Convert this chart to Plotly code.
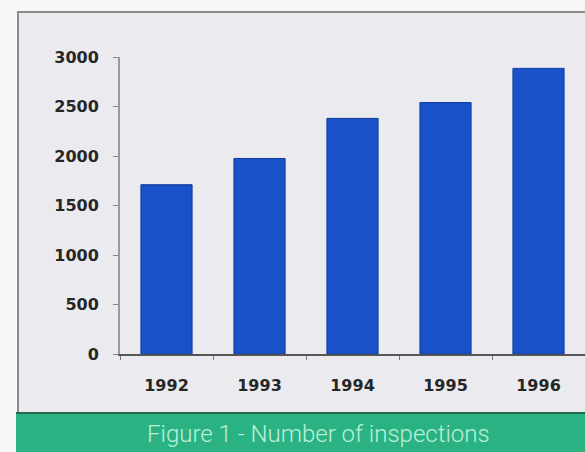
import plotly.graph_objects as go

W, H = 585, 452

years = ["1992", "1993", "1994", "1995", "1996"]
inspections = [1710, 1975, 2380, 2540, 2885]
y_ticks = [0, 500, 1000, 1500, 2000, 2500, 3000]
caption = "Figure 1 - Number of inspections"

def px_x(x):
    return x / W

def px_y(y):
    return 1 - y / H

fig = go.Figure(
    go.Bar(
        x=years,
        y=inspections,
        marker=dict(color="#1a50c8", line=dict(color="#0d3c9e", width=1)),
        width=0.55,
    )
)

shapes = [
    # panel background with grey frame
    dict(type="rect", xref="paper", yref="paper",
         x0=px_x(18), x1=px_x(600), y0=px_y(413), y1=px_y(12),
         fillcolor="#ebebef", line=dict(color="#8c8c8c", width=2), layer="below"),
    # green caption band
    dict(type="rect", xref="paper", yref="paper",
         x0=px_x(16), x1=px_x(600), y0=px_y(460), y1=px_y(413),
         fillcolor="#2ab282", line=dict(width=0), layer="below"),
    dict(type="line", xref="paper", yref="paper",
         x0=px_x(16), x1=px_x(600), y0=px_y(413), y1=px_y(413),
         line=dict(color="#1f6a4e", width=2), layer="below"),
]

tick_font = dict(family="DejaVu Sans", size=16, weight="bold", color="#262626")

fig.update_layout(
    width=W, height=H,
    margin=dict(l=0, r=0, t=0, b=0, pad=0, autoexpand=False),
    paper_bgcolor="#f8f8f8",
    plot_bgcolor="rgba(0,0,0,0)",
    showlegend=False,
    shapes=shapes,
    font=dict(family="DejaVu Sans", size=14, color="#262626"),
    xaxis=dict(
        domain=[px_x(120), 1],
        range=[-0.5, 4.5],
        type="category",
        showgrid=False,
        showline=True, linecolor="#555555", linewidth=2,
        ticks="outside", ticklen=4, tickcolor="#777777",
        tickson="boundaries",
        ticklabelstandoff=16,
        tickfont=tick_font,
        fixedrange=True,
        automargin=False,
    ),
    yaxis=dict(
        domain=[px_y(354), px_y(57)],
        range=[0, 3000],
        tickvals=y_ticks,
        ticktext=[str(v) for v in y_ticks],
        showgrid=False, zeroline=False,
        showline=True, linecolor="#9a9a9a", linewidth=2,
        ticks="outside", ticklen=5, tickcolor="#888888",
        ticklabelstandoff=11,
        tickfont=tick_font,
        fixedrange=True,
        automargin=False,
    ),
    annotations=[
        dict(text=caption, xref="paper", yref="paper",
             x=px_x(318), y=px_y(434), xanchor="center", yanchor="middle",
             showarrow=False,
             font=dict(family="Roboto, sans-serif", size=24, weight=300,
                       color="#bdf0da")),
    ],
)

fig.write_html("out.html", config={"displayModeBar": False})
